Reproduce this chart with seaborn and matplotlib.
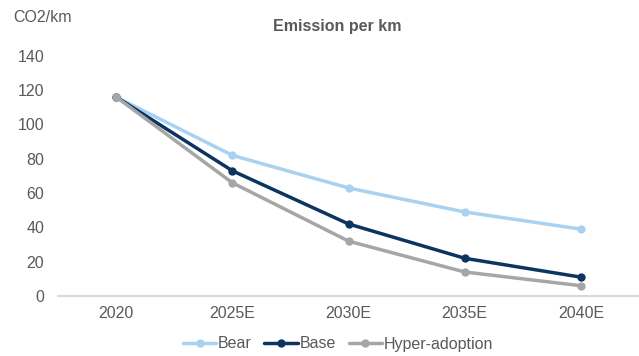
import pandas as pd
import numpy as np
import seaborn as sns
import matplotlib.pyplot as plt

# dados
anos = ["2020", "2025E", "2030E", "2035E", "2040E"]
bear = [116, 82, 63, 49, 39]
base = [116, 73, 42, 22, 11]
hyper = [116, 66, 32, 14, 6]

cenarios = ["Bear", "Base", "Hyper-adoption"]
cores = {"Bear": "#A9D1F0", "Base": "#0B3560", "Hyper-adoption": "#A6A6A6"}

df = pd.DataFrame({
    "Ano": anos * 3,
    "Valor": bear + base + hyper,
    "Cenario": ["Bear"] * 5 + ["Base"] * 5 + ["Hyper-adoption"] * 5,
})

sns.set_theme(style="white")
plt.rcParams['font.family'] = ['Liberation Sans', 'DejaVu Sans']
cinza = "#595959"

fig = plt.figure(figsize=(6.39, 3.56), dpi=100)
ax = fig.add_axes([0.091, 0.1685, 0.909, 0.6745])

sns.lineplot(
    data=df,
    x="Ano",
    y="Valor",
    hue="Cenario",
    hue_order=cenarios,
    palette=cores,
    marker="o",
    markersize=6,
    markeredgewidth=0,
    linewidth=2.5,
    ax=ax,
)

ax.set_xlim(-0.5, 4.5)
ax.set_ylim(0, 140)
ax.set_yticks(range(0, 141, 20))
ax.set_xlabel("")
ax.set_ylabel("")
ax.tick_params(axis="both", colors=cinza, labelsize=11.5, length=0)
ax.tick_params(axis="x", pad=7)
ax.tick_params(axis="y", pad=10)
for lado in ["top", "right", "left"]:
    ax.spines[lado].set_visible(False)
ax.spines["bottom"].set_color("#D9D9D9")
ax.spines["bottom"].set_linewidth(1.5)

fig.text(337 / 639, 1 - 27 / 356, "Emission per km", ha="center", va="center",
         fontsize=11.5, fontweight="bold", color=cinza)
fig.text(13 / 639, 1 - 17 / 356, "CO2/km", ha="left", va="center",
         fontsize=11.5, color=cinza)

handles, labels = ax.get_legend_handles_labels()
ax.legend(handles, labels, loc="center", bbox_to_anchor=(338 / 639, 1 - 344 / 356),
          bbox_transform=fig.transFigure, ncol=3, frameon=False, fontsize=11.5,
          handlelength=2.1, columnspacing=0.8, handletextpad=0.1,
          labelcolor=cinza)

fig.savefig("out.png", dpi=100)
